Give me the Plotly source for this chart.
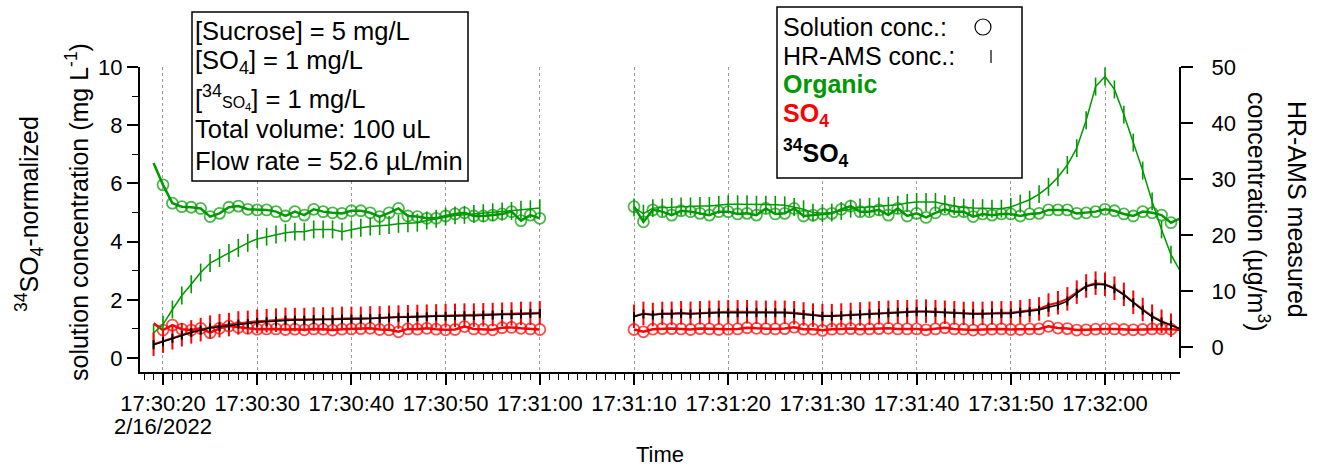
import plotly.graph_objects as go
import pandas as pd

# ---------------- data ----------------
DAY = "2022-02-16"
SEG1_TIMES = pd.date_range(f"{DAY} 17:30:19", f"{DAY} 17:31:00", freq="1s")
SEG2_TIMES = pd.date_range(f"{DAY} 17:31:10", f"{DAY} 17:32:08", freq="1s")
GAP_TIME = pd.Timestamp(f"{DAY} 17:31:05")

# Solution concentrations (left axis, mg/L) -- first point of segment 1 is the lead-in (no marker)
org_sol_1 = [6.70, 5.95, 5.32, 5.20, 5.18, 5.14, 4.86, 4.97, 5.18, 5.22, 5.11, 5.09, 5.09, 5.03,
             4.88, 5.03, 4.91, 5.11, 5.03, 4.99, 4.97, 5.06, 5.06, 4.99, 4.86, 4.99, 5.14, 4.88,
             4.86, 4.80, 4.80, 4.88, 4.95, 4.99, 4.88, 4.88, 4.91, 4.95, 5.03, 4.72, 4.91, 4.80]
org_sol_2 = [5.20, 4.68, 5.09, 5.03, 4.91, 5.06, 5.03, 4.97, 4.91, 5.03, 5.03, 4.95, 4.97, 4.91,
             5.14, 4.95, 4.97, 5.14, 4.88, 4.91, 4.95, 4.97, 5.11, 5.22, 5.03, 5.03, 5.09, 4.91,
             5.14, 4.88, 4.97, 4.83, 4.99, 5.11, 5.03, 5.03, 4.86, 4.95, 4.91, 4.95, 4.95, 4.88,
             4.95, 4.97, 5.09, 5.09, 5.09, 4.97, 4.99, 5.03, 5.11, 5.06, 4.95, 4.88, 5.03, 4.99,
             4.91, 4.65, 4.80]
so4_sol_1 = [1.19, 0.96, 1.13, 0.99, 0.96, 1.02, 0.87, 1.02, 1.10, 1.05, 1.02, 0.99, 1.00, 1.00,
             0.98, 0.99, 0.97, 1.00, 0.99, 0.96, 0.99, 1.00, 1.01, 1.02, 0.98, 0.97, 0.90, 1.00,
             0.99, 1.02, 0.99, 0.97, 0.98, 1.08, 1.00, 0.99, 0.97, 1.04, 1.05, 1.02, 1.00, 0.98]
so4_sol_2 = [0.98, 0.90, 0.99, 1.01, 1.01, 1.00, 0.98, 1.01, 1.00, 0.98, 0.99, 1.00, 1.04, 1.02,
             1.00, 1.00, 1.01, 1.06, 0.99, 0.99, 0.95, 0.99, 1.00, 1.01, 0.99, 1.00, 1.01, 1.02,
             1.00, 1.00, 1.00, 0.97, 1.00, 1.04, 1.00, 0.99, 0.96, 0.98, 0.99, 1.00, 0.98, 0.98,
             1.00, 1.00, 1.09, 1.03, 1.01, 0.96, 0.97, 0.99, 1.00, 1.00, 0.98, 0.97, 0.98, 1.00,
             1.00, 0.99, 0.96]

# HR-AMS concentrations (right axis, ug/m3)
org_ams_1 = [2.5, 4.0, 6.7, 9.2, 11.2, 13.3, 15.0, 15.9, 16.8, 17.7, 18.6, 19.3, 19.7, 20.1,
             20.4, 20.6, 20.6, 21.0, 21.0, 21.0, 20.6, 21.0, 21.3, 21.5, 21.6, 21.8, 22.0, 22.1,
             22.2, 22.6, 22.9, 23.3, 23.5, 23.6, 23.75, 23.9, 24.05, 24.2, 24.3, 24.5, 24.6, 24.8]
org_ams_2 = [24.9, 23.8, 24.8, 24.9, 25.0, 25.1, 25.1, 25.2, 25.2, 25.4, 25.5, 25.5, 25.5, 25.4,
             25.4, 25.4, 25.3, 25.0, 24.6, 24.0, 23.9, 24.0, 24.3, 24.7, 24.9, 25.0, 25.1, 25.2,
             25.4, 25.7, 25.9, 25.9, 25.9, 25.5, 25.2, 24.9, 24.8, 24.8, 24.7, 24.7, 25.0, 25.6,
             26.3, 27.3, 28.6, 30.3, 32.5, 35.5, 40.5, 46.5, 48.3, 46.0, 41.5, 36.5, 31.5, 26.0,
             21.0, 16.5, 13.5]
so4_ams_1 = [0.5, 1.05, 1.65, 2.2, 2.7, 3.1, 3.55, 3.8, 4.0, 4.3, 4.4, 4.6, 4.7, 4.8,
             4.95, 4.9, 4.9, 5.0, 5.0, 5.0, 5.1, 5.1, 5.1, 5.2, 5.2, 5.3, 5.35, 5.4,
             5.45, 5.5, 5.55, 5.6, 5.65, 5.7, 5.7, 5.75, 5.8, 5.85, 5.9, 6.0, 6.0, 6.1]
so4_ams_2 = [5.5, 6.0, 5.8, 6.0, 6.0, 6.1, 6.0, 6.1, 6.2, 6.2, 6.3, 6.3, 6.3, 6.2,
             6.2, 6.2, 6.2, 6.1, 5.9, 5.7, 5.6, 5.6, 5.7, 5.8, 5.9, 6.0, 6.1, 6.2,
             6.3, 6.3, 6.4, 6.4, 6.3, 6.2, 6.1, 6.0, 6.0, 6.0, 6.1, 6.1, 6.1, 6.3,
             6.5, 6.8, 7.5, 7.9, 8.6, 9.8, 10.9, 11.4, 11.2, 10.5, 9.4, 8.0, 6.7, 5.5,
             4.6, 3.9, 3.2]
s34_ams_1 = [0.4, 0.95, 1.55, 2.1, 2.6, 3.0, 3.4, 3.6, 3.8, 4.1, 4.2, 4.4, 4.5, 4.6,
             4.8, 4.8, 4.8, 4.9, 4.9, 4.9, 5.0, 5.0, 5.0, 5.1, 5.1, 5.2, 5.3, 5.3,
             5.4, 5.4, 5.5, 5.5, 5.6, 5.6, 5.6, 5.7, 5.7, 5.8, 5.8, 5.9, 6.0, 6.0]
s34_ams_2 = [5.4, 5.9, 5.7, 5.9, 5.9, 6.0, 5.9, 6.0, 6.1, 6.1, 6.1, 6.1, 6.2, 6.1,
             6.1, 6.1, 6.1, 6.0, 5.8, 5.6, 5.5, 5.5, 5.6, 5.7, 5.8, 5.9, 6.0, 6.1,
             6.2, 6.2, 6.3, 6.3, 6.2, 6.1, 6.0, 5.9, 5.9, 5.9, 6.0, 6.0, 6.0, 6.2,
             6.3, 6.6, 7.1, 7.5, 8.2, 9.6, 10.8, 11.2, 11.1, 10.4, 9.3, 7.9, 6.6, 5.4,
             4.5, 3.9, 3.2]

# uncertainties of HR-AMS data (ug/m3)
ORG_ERR, SO4_ERR, S34_ERR = 1.6, 2.1, 0.8

MAJOR_TICK_TIMES = pd.date_range(f"{DAY} 17:30:20", f"{DAY} 17:32:00", freq="10s")
TICK_LABELS = ["17:30:20", "17:30:30", "17:30:40", "17:30:50", "17:31:00",
               "17:31:10", "17:31:20", "17:31:30", "17:31:40", "17:31:50", "17:32:00"]
DATE_LABEL = "2/16/2022"
X_RANGE = [f"{DAY} 17:30:17.56", f"{DAY} 17:32:07.96"]

# ---------------- styling ----------------
GREEN, RED, BLACK = "#009900", "#FF0000", "#000000"
FONT = "Liberation Sans, Arial, sans-serif"
L, R, T, B = 140, 1180, 67, 372
W, H = R - L, B - T


def px(x):
    return (x - L) / W


def py(y):
    return (B - y) / H


def join(seg1, seg2):
    return list(seg1) + [None] + list(seg2)


X = list(SEG1_TIMES) + [GAP_TIME] + list(SEG2_TIMES)

sol_sizes = [0] + [11] * (len(SEG1_TIMES) - 1) + [0] + [11] * len(SEG2_TIMES)

fig = go.Figure()


def add_solution(y1, y2, color):
    fig.add_trace(go.Scatter(
        x=X, y=join(y1, y2), mode="lines+markers", yaxis="y", cliponaxis=False,
        line=dict(color=color, width=2.5),
        marker=dict(symbol="circle-open", size=sol_sizes, color=color, line=dict(width=1.8, color=color)),
        connectgaps=False, showlegend=False))


def add_ams(y1, y2, color, err, lw, ew):
    fig.add_trace(go.Scatter(
        x=X, y=join(y1, y2), mode="lines", yaxis="y2", cliponaxis=False,
        line=dict(color=color, width=lw),
        error_y=dict(type="constant", value=err, color=color, thickness=ew, width=0),
        connectgaps=False, showlegend=False))


add_solution(org_sol_1, org_sol_2, GREEN)
add_solution(so4_sol_1, so4_sol_2, RED)
add_ams(org_ams_1, org_ams_2, GREEN, ORG_ERR, 1.5, 1.6)
add_ams(so4_ams_1, so4_ams_2, RED, SO4_ERR, 2, 2)
add_ams(s34_ams_1, s34_ams_2, BLACK, S34_ERR, 1.5, 2)

fig.update_layout(
    width=1318, height=470, autosize=False,
    margin=dict(l=L, r=1318 - R, t=T, b=470 - B, pad=0),
    paper_bgcolor="white", plot_bgcolor="white",
    font=dict(family=FONT, size=22, color="black"),
    showlegend=False,
    xaxis=dict(
        type="date", range=X_RANGE, tickmode="array", tickvals=list(MAJOR_TICK_TIMES),
        ticktext=TICK_LABELS, ticks="outside", ticklen=11, tickwidth=1.5, tickcolor="black",
        showline=True, linecolor="black", linewidth=2, mirror=False,
        showgrid=True, gridcolor="#9a9a9a", griddash="dot", gridwidth=1, zeroline=False,
        tickfont=dict(size=22),
        minor=dict(tickmode="linear", tick0=f"{DAY} 17:30:00", dtick=1000, ticks="outside",
                   ticklen=6, tickwidth=1, tickcolor="black", showgrid=False),
    ),
    yaxis=dict(
        range=[-0.481, 10], tickmode="linear", tick0=0, dtick=2, ticks="outside", ticklen=11,
        tickwidth=1.5, tickcolor="black", showline=True, linecolor="black", linewidth=2,
        showgrid=False, zeroline=False, tickfont=dict(size=22),
        minor=dict(tickmode="linear", tick0=1, dtick=2, ticks="outside", ticklen=6,
                   tickwidth=1, tickcolor="black", showgrid=False),
    ),
    yaxis2=dict(
        overlaying="y", side="right", range=[-4.464, 50], tickmode="linear", tick0=0, dtick=10,
        ticks="outside", ticklen=12, tickwidth=1.5, tickcolor="black", showline=False,
        showgrid=False, zeroline=False, tickfont=dict(size=22), ticklabelstandoff=14,
    ),
)

shapes = []
# right axis line (shorter than plot area)
shapes.append(dict(type="line", xref="paper", yref="paper", x0=1, x1=1, y0=py(358), y1=1,
                   line=dict(color="black", width=2)))
# info box
shapes.append(dict(type="rect", xref="paper", yref="paper", x0=px(192), x1=px(468), y0=py(181), y1=py(12),
                   line=dict(color="black", width=1.5), fillcolor="white", layer="above"))
# legend box
shapes.append(dict(type="rect", xref="paper", yref="paper", x0=px(777), x1=px(1022), y0=py(178), y1=py(7),
                   line=dict(color="black", width=1.5), fillcolor="white", layer="above"))
# legend symbols
shapes.append(dict(type="circle", xref="paper", yref="paper", xsizemode="pixel", ysizemode="pixel",
                   xanchor=px(983), yanchor=py(27), x0=-8, x1=8, y0=-8, y1=8,
                   line=dict(color="black", width=1.2), layer="above"))
shapes.append(dict(type="line", xref="paper", yref="paper", x0=px(991), x1=px(991), y0=py(63), y1=py(50),
                   line=dict(color="black", width=1.2), layer="above"))

ann = []


def text(x, y, s, size, xanchor="left", angle=0, color="black"):
    ann.append(dict(x=px(x), y=py(y), xref="paper", yref="paper", text=s, showarrow=False,
                    xanchor=xanchor, yanchor="middle", textangle=angle,
                    font=dict(family=FONT, size=size, color=color)))


# info box text
text(193, 31, "[Sucrose] = 5 mg/L", 25.5)
text(193, 62, "[SO<sub>4</sub>] = 1 mg/L", 25.5)
text(193, 97, "[<sup>34</sup><span style='font-size:16px'>SO<sub>4</sub></span>] = 1 mg/L", 25.5)
text(193, 129, "Total volume: 100 uL", 25.5)
text(193, 161, "Flow rate = 52.6 µL/min", 25.5)

# legend text
text(781, 27, "Solution conc.:", 25)
text(781, 56, "HR-AMS conc.:", 25)
text(781, 84, "<b>Organic</b>", 25, color=GREEN)
text(781, 115, "<b>SO<sub>4</sub></b>", 25, color=RED)
text(781, 153, "<b><sup>34</sup>SO<sub>4</sub></b>", 25, color=BLACK)

# axis titles
text(29, 214, "<sup>34</sup>SO<sub>4</sub>-normalized", 25, xanchor="center", angle=-90)
text(77, 212, "solution concentration (mg L<sup>-1</sup>)", 25, xanchor="center", angle=-90)
text(1297, 209, "HR-AMS measured", 25, xanchor="center", angle=90)
text(1258, 212, "concentration (µg/m<sup>3</sup>)", 25, xanchor="center", angle=90)
text(163, 426, DATE_LABEL, 22, xanchor="center")
text(660, 454, "Time", 22, xanchor="center")

fig.update_layout(shapes=shapes, annotations=ann)
fig.write_html("out.html")
